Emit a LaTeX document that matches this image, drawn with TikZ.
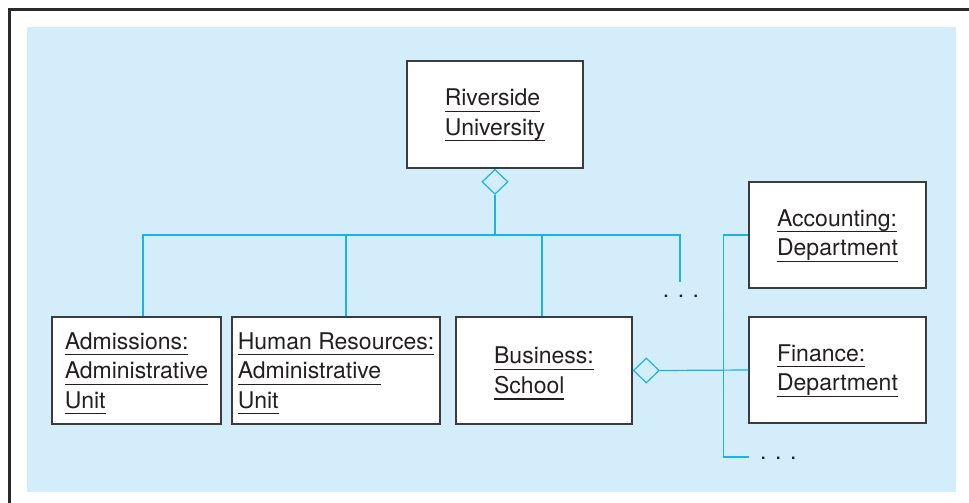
\documentclass[tikz,border=0pt]{standalone}
\usepackage{fontspec}
\setmainfont{TeX Gyre Heros}
\usetikzlibrary{shapes.geometric,positioning,calc}
\definecolor{panelblue}{HTML}{D3EEFA}
\definecolor{linkcyan}{HTML}{1AB2EA}
\definecolor{boxgray}{HTML}{3C3C3C}
\definecolor{framegray}{HTML}{2A2A2A}
\definecolor{inkgray}{HTML}{231F20}
\newcommand{\ulline}[1]{\setbox0=\hbox{#1}\rlap{\smash{\rule[-6.2pt]{\wd0}{1.3pt}}}\box0}

\begin{document}
\begin{tikzpicture}[x=1pt,y=-1pt,
  classbox/.style={draw=boxgray, line width=1.4pt, fill=white, minimum height=107pt, align=left, inner sep=0pt, text=inkgray, font=\fontsize{23}{29.5}\selectfont},
  aggr/.style={diamond, draw=linkcyan, line width=1.2pt, minimum width=26pt, minimum height=25pt, inner sep=0pt},
  link/.style={draw=linkcyan, line width=1.2pt},
  more/.style={text=inkgray, inner sep=0pt, font=\fontsize{23}{29.5}\selectfont}]
  \useasboundingbox (0,0) rectangle (969,503);
  \fill[panelblue] (27,27) rectangle (956,492);
  \draw[framegray, line width=2.5pt] (9.5,503) -- (9.5,9.5) -- (969,9.5);
  % whole and its parts
  \node[classbox, minimum width=176pt] (univ) at (495,114.5) {\ulline{Riverside}\\\ulline{University}};
  \node[aggr, anchor=north] (univagg) at (univ.south) {};
  \coordinate (hub) at (univagg.south |- {(0,235)});
  \coordinate (moreA) at (680,282);
  \node[classbox, minimum width=169pt] (adm) at (136.5,370.5) {\ulline{Admissions:}\\\ulline{Administrative}\\\ulline{Unit}};
  \node[classbox, minimum width=208pt] (hr) at (336,370.5) {\ulline{Human Resources:}\\\ulline{Administrative}\\\ulline{Unit}};
  \node[classbox, minimum width=176pt] (biz) at (544,370.5) {\ulline{Business:}\\\ulline{School}};
  \node[more, anchor=base] (dotsA) at (681,297) {. . .};
  \draw[link] (univagg.south) -- (hub);
  \draw[link] ([xshift=6.5pt]adm.north) |- (hub) -| (moreA);
  \draw[link] ([xshift=10pt]hr.north) |- (hub);
  \draw[link] ([xshift=-2pt]biz.north) |- (hub);
  % departments of the school
  \node[classbox, minimum width=177pt, minimum height=106pt] (acct) at (837.5,235) {\ulline{Accounting:}\\\ulline{Department}};
  \node[classbox, minimum width=177pt, minimum height=106pt] (fin) at (837.5,370) {\ulline{Finance:}\\\ulline{Department}};
  \node[aggr, anchor=west] (bizagg) at (biz.east) {};
  \coordinate (moreB) at (749,457);
  \node[more, anchor=base west] (dotsB) at (760,459) {. . .};
  \draw[link] (bizagg.east) -- (fin.west);
  \draw[link] (acct.west) -- ++(-25,0) |- (moreB);
\end{tikzpicture}
\end{document}
